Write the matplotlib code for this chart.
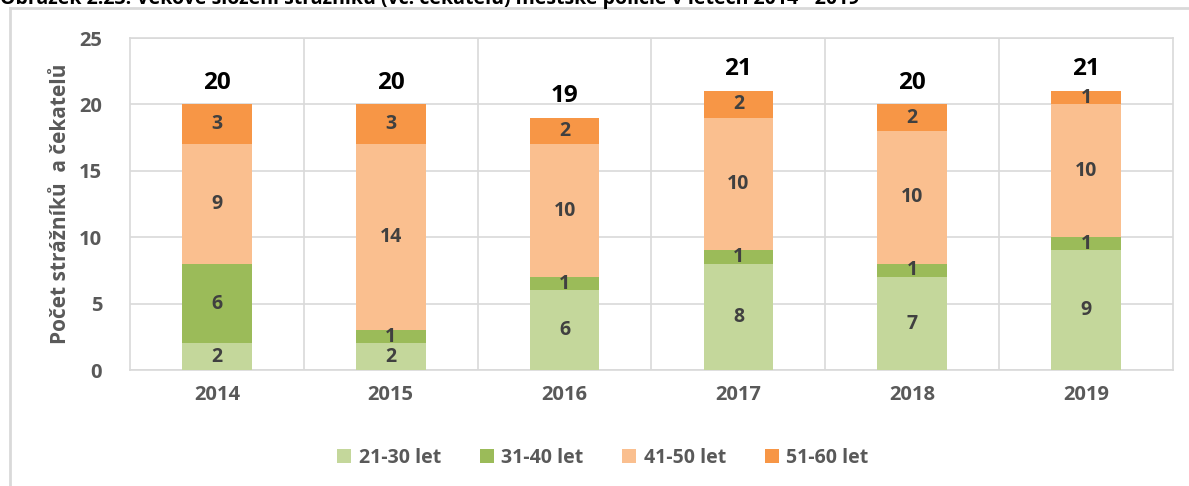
import numpy as np
import matplotlib.pyplot as plt
from matplotlib.lines import Line2D

plt.rcParams['font.family'] = ['Open Sans', 'DejaVu Sans']

# data
years = ['2014', '2015', '2016', '2017', '2018', '2019']
age_groups = ['21-30 let', '31-40 let', '41-50 let', '51-60 let']
v21_30 = [2, 2, 6, 8, 7, 9]
v31_40 = [6, 1, 1, 1, 1, 1]
v41_50 = [9, 14, 10, 10, 10, 10]
v51_60 = [3, 3, 2, 2, 2, 1]
totals = [20, 20, 19, 21, 20, 21]

colors = ['#C4D79B', '#9BBB59', '#FABF8F', '#F79646']
grid_col = '#D9D9D9'
text_col = '#595959'

W, H = 1189, 486
fig = plt.figure(figsize=(W / 100, H / 100), dpi=100)
ax = fig.add_axes([130 / W, (H - 370) / H, (1173 - 130) / W, (370 - 38) / H])

x = np.arange(len(years))
bottom = np.zeros(len(years))
for vals, col, lab in zip([v21_30, v31_40, v41_50, v51_60], colors, age_groups):
    bars = ax.bar(x, vals, width=0.4, bottom=bottom, color=col, label=lab, zorder=3)
    for b, v, y0 in zip(bars, vals, bottom):
        ax.text(b.get_x() + b.get_width() / 2, y0 + v / 2, str(v),
                ha='center', va='center', fontsize=14, fontweight='bold',
                color='#404040', zorder=4)
    bottom += np.array(vals)

for xi, t in zip(x, totals):
    ax.annotate(str(t), (xi, t), xytext=(0, 7), textcoords='offset points',
                ha='center', va='bottom', fontsize=17.5, fontweight='bold', color='black')

ax.set_xlim(-0.5, len(years) - 0.5)
ax.set_ylim(0, 25)
ax.set_yticks(range(0, 26, 5))
ax.set_xticks(x)
ax.set_xticklabels(years)
ax.set_xticks(x[:-1] + 0.5, minor=True)
ax.grid(axis='y', color=grid_col, lw=1.2, zorder=0)
ax.grid(axis='x', which='minor', color=grid_col, lw=1.2, zorder=0)
ax.tick_params(which='both', length=0)
ax.tick_params(axis='y', pad=20, labelsize=14.5, labelcolor=text_col)
ax.tick_params(axis='x', pad=11, labelsize=14.5, labelcolor=text_col)
for lbl in ax.get_xticklabels() + ax.get_yticklabels():
    lbl.set_fontweight('bold')
for s in ax.spines.values():
    s.set_color(grid_col)
    s.set_linewidth(1.2)

ax.set_ylabel('Počet strážníků  a čekatelů', fontsize=15, fontweight='bold',
              color=text_col, labelpad=6)

leg = fig.legend(loc='center', bbox_to_anchor=(603 / W, 1 - 458 / H), ncol=4,
                 frameon=False, fontsize=14, handlelength=0.7, handleheight=0.7,
                 handletextpad=0.4, columnspacing=2.0)
for t in leg.get_texts():
    t.set_color(text_col)
    t.set_fontweight('bold')

# outer frame of the chart and the cut-off caption above it
fig.add_artist(Line2D([10 / W, 1], [1 - 8 / H, 1 - 8 / H], color=grid_col, lw=2))
fig.add_artist(Line2D([10 / W, 10 / W], [0, 1 - 8 / H], color=grid_col, lw=2))
fig.text(0.0, 1 - 4 / H, 'Obrázek 2.23: Věkové složení strážníků (vč. čekatelů) městské policie v letech 2014 - 2019',
         fontsize=14, fontweight='bold', color='black', va='baseline', ha='left')

fig.savefig('out.png', dpi=100)
